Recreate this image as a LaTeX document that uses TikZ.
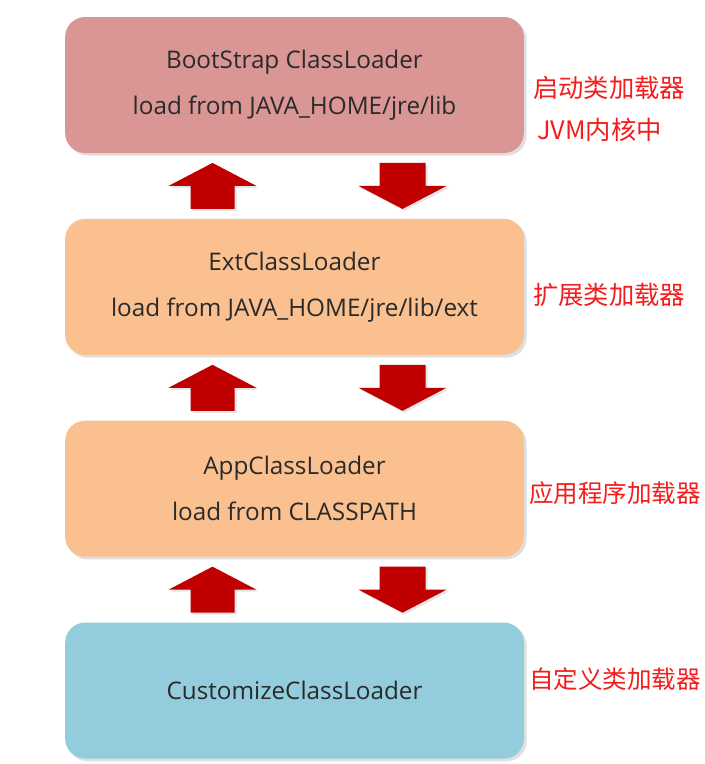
\documentclass[tikz,border=0pt]{standalone}
\usepackage{fontspec}
\setmainfont{Open Sans}
\newfontfamily\cjk{Noto Sans CJK SC}
\usetikzlibrary{positioning,calc,shadows}
\definecolor{Boot}{HTML}{D99694}
\definecolor{Ext}{HTML}{FAC090}
\definecolor{Cust}{HTML}{93CDDD}
\definecolor{Txt}{HTML}{2A2A2A}
\definecolor{Arr}{HTML}{C00000}
\definecolor{Lbl}{HTML}{F41C1C}

\begin{document}
\begin{tikzpicture}[x=0.75pt,y=-0.75pt,node distance=49pt,
    box/.style={fill=#1,rounded corners=15pt,minimum width=344pt,minimum height=102pt,align=center,text=Txt,font=\fontsize{18.2}{34.5}\selectfont,drop shadow={shadow xshift=2pt,shadow yshift=-2pt,opacity=0.25}},
    lbl/.style={anchor=west,text=Lbl,font=\cjk\fontsize{19}{22}\selectfont,inner sep=0pt},
    uparr/.pic={\fill[Arr,drop shadow={shadow xshift=1.5pt,shadow yshift=-1.5pt,opacity=0.2}] (-22,23) -- (-22,0) -- (-44,0) -- (0,-23) -- (44,0) -- (22,0) -- (22,23) -- cycle;},
    downarr/.pic={\fill[Arr,drop shadow={shadow xshift=1.5pt,shadow yshift=-1.5pt,opacity=0.2}] (-23,-23) -- (-23,0) -- (-44,0) -- (0,23) -- (44,0) -- (23,0) -- (23,-23) -- cycle;}]
    \useasboundingbox[fill=white] (0,0) rectangle (705,764);
    \node[box=Boot] (boot) at (294.5,85) {BootStrap ClassLoader\\load from JAVA\_HOME/jre/lib};
    \node[box=Ext,below=of boot] (ext) {ExtClassLoader\\load from JAVA\_HOME/jre/lib/ext};
    \node[box=Ext,below=of ext] (app) {AppClassLoader\\load from CLASSPATH};
    \node[box=Cust,below=of app] (cust) {CustomizeClassLoader};
    % block arrows between the boxes
    \path ($(boot.south)!0.5!(ext.north)$) coordinate (g1)
          ($(ext.south)!0.5!(app.north)$) coordinate (g2)
          ($(app.south)!0.5!(cust.north)$) coordinate (g3);
    \foreach \g in {g1,g2,g3}{
      \pic at ($(\g)+(-82,0)$) {uparr};
      \pic at ($(\g)+(108,0)$) {downarr};
    }
    % red notes
    \node[lbl] (l1) at (533,88) {启动类加载器};
    \node[lbl] (l1b) at (537,130) {JVM内核中};
    \node[lbl] (l2) at (533,295) {扩展类加载器};
    \node[lbl,font=\cjk\fontsize{18.4}{22}\selectfont] (l3) at (529,493) {应用程序加载器};
    \node[lbl,font=\cjk\fontsize{18.4}{22}\selectfont] (l4) at (529,679) {自定义类加载器};
  \end{tikzpicture}
\end{document}
